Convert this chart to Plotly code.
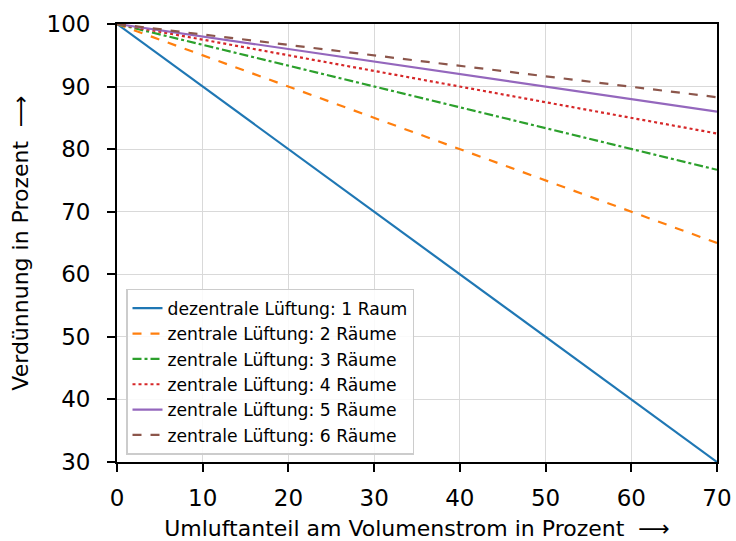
import plotly.graph_objects as go

x_vals = [0, 70]
names = [
    "dezentrale Lüftung: 1 Raum",
    "zentrale Lüftung: 2 Räume",
    "zentrale Lüftung: 3 Räume",
    "zentrale Lüftung: 4 Räume",
    "zentrale Lüftung: 5 Räume",
    "zentrale Lüftung: 6 Räume",
]
y_series = [
    [100, 30],
    [100, 65],
    [100, 76.7],
    [100, 82.5],
    [100, 86],
    [100, 88.3],
]
colors = ["#1f77b4", "#ff7f0e", "#2ca02c", "#d62728", "#9467bd", "#8c564b"]
dashes = ["solid", "dash", "dashdot", "dot", "solid", "dash"]
x_ticks = [0, 10, 20, 30, 40, 50, 60, 70]
y_ticks = [30, 40, 50, 60, 70, 80, 90, 100]

fig = go.Figure()
for name, ys, c, d in zip(names, y_series, colors, dashes):
    fig.add_trace(go.Scatter(x=x_vals, y=ys, mode="lines", name=name,
                             line=dict(color=c, dash=d, width=2.2)))

axis_common = dict(showline=True, linecolor="black", linewidth=1.8, mirror=True,
                   ticks="outside", ticklen=8, tickwidth=1.8, tickcolor="black",
                   showgrid=True, gridcolor="#d9d9d9", gridwidth=1,
                   zeroline=False, automargin=False,
                   tickfont=dict(size=23, color="black"))

fig.update_layout(
    width=736, height=541,
    margin=dict(l=117, r=19, t=24, b=79),
    paper_bgcolor="white", plot_bgcolor="white",
    font=dict(family="DejaVu Sans", color="black"),
    xaxis=dict(range=[0, 70], tickvals=x_ticks, ticklabelstandoff=6,
               title=dict(text="Umluftanteil am Volumenstrom in Prozent  ⟶", font=dict(size=22), standoff=15),
               **axis_common),
    yaxis=dict(range=[30, 100], tickvals=y_ticks, ticklabelstandoff=12,
               title=dict(text="Verdünnung in Prozent  ⟶", font=dict(size=22), standoff=12),
               **axis_common),
    legend=dict(x=0.015, y=0.016, xanchor="left", yanchor="bottom",
                bgcolor="rgba(255,255,255,0.85)", bordercolor="#cccccc", borderwidth=1.5,
                font=dict(size=17.2), tracegroupgap=0),
    showlegend=True,
)

fig.write_html("out.html", config={"displayModeBar": False},
               post_script="document.body.style.margin='0';document.body.style.padding='0';")
